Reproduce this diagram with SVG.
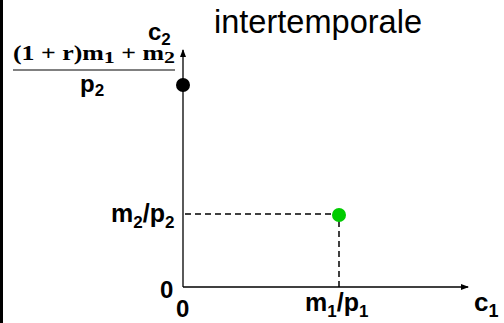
<svg xmlns="http://www.w3.org/2000/svg" width="504" height="323" viewBox="0 0 504 323">
<style>
.b{font-family:"Liberation Sans",Arial,sans-serif;font-weight:bold;fill:#000}
.t{font-family:"Liberation Serif","Times New Roman",serif;font-weight:bold;fill:#000}
.ax{stroke:#000;stroke-width:1.3;fill:none}
.d{stroke:#000;stroke-width:1.5;stroke-dasharray:6,4;fill:none}
</style>
<defs>
<marker id="ar" markerWidth="8" markerHeight="6" refX="7" refY="3" orient="auto" markerUnits="userSpaceOnUse">
<path d="M0,0 L8,3 L0,6 z" fill="#000"/>
</marker>
</defs>
<rect x="0" y="0" width="504" height="323" fill="#fff"/>
<rect x="0" y="0" width="3" height="323" fill="#000"/>
<text x="214" y="33" font-family="'Liberation Sans',Arial,sans-serif" font-size="34" textLength="208" lengthAdjust="spacingAndGlyphs">intertemporale</text>
<g id="connectors">
<line class="ax" x1="183" y1="287" x2="183" y2="50" marker-end="url(#ar)"/>
<line class="ax" x1="183" y1="287" x2="468" y2="287" marker-end="url(#ar)"/>
<line class="d" x1="185" y1="214" x2="333" y2="214"/>
<line class="d" x1="339" y1="221" x2="339" y2="287"/>
</g>
<g id="c2-label"><text class="b" x="148" y="40" font-size="24">c<tspan font-size="17" dy="5">2</tspan></text></g>
<g id="c1-label"><text class="b" x="474" y="311" font-size="26">c<tspan font-size="18" dy="6">1</tspan></text></g>
<g id="intercept">
<text class="t" x="13" y="60" font-size="20" textLength="162" lengthAdjust="spacingAndGlyphs">(1 + r)m<tspan dy="3" font-size="17">1</tspan><tspan dy="-3"> + m</tspan><tspan dy="3" font-size="17">2</tspan></text>
<line x1="13" y1="70" x2="175" y2="70" stroke="#808080" stroke-width="2"/>
<text class="b" x="80" y="92" font-size="24">p<tspan font-size="17" dy="4">2</tspan></text>
<circle cx="183" cy="85" r="7" fill="#000"/>
</g>
<g id="endowment">
<circle cx="339" cy="215" r="7" fill="#00cc00"/>
<text class="b" x="111" y="222" font-size="25">m<tspan font-size="17" dy="6">2</tspan><tspan dy="-6">/p</tspan><tspan font-size="17" dy="6">2</tspan></text>
<text class="b" x="305" y="311" font-size="25">m<tspan font-size="17" dy="6">1</tspan><tspan dy="-6">/p</tspan><tspan font-size="17" dy="6">1</tspan></text>
</g>
<g id="zeros">
<text class="b" x="160" y="298" font-size="24">0</text>
<text class="b" x="176" y="317" font-size="24">0</text>
</g>
</svg>
